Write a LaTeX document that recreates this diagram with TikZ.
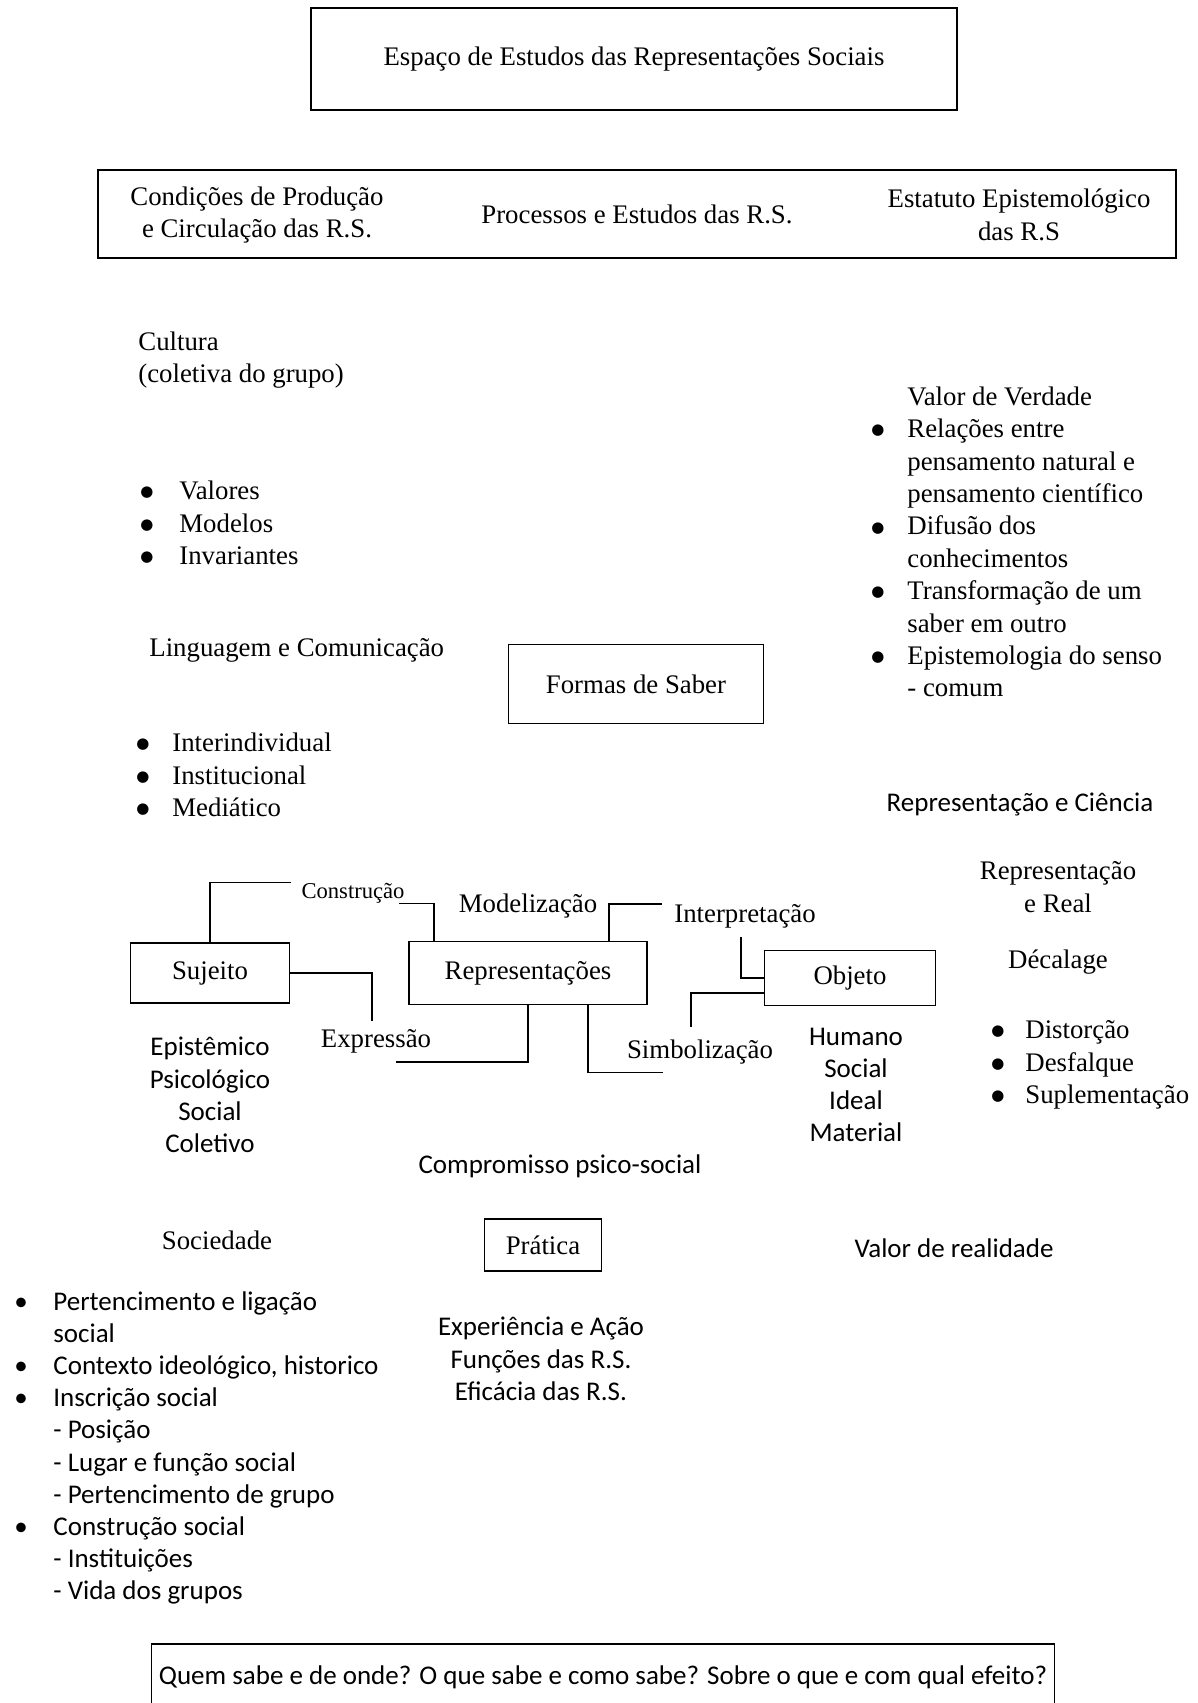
\documentclass[tikz,border=0pt]{standalone}
\usepackage{fontspec}
\setmainfont{Liberation Serif}
\newfontfamily\calibri{Carlito}
\newfontfamily\dejavu{DejaVu Sans}
\usetikzlibrary{calc}
\newcommand{\marca}[1][18pt]{\makebox[#1][l]{\raisebox{1.4pt}{\dejavu\fontsize{7.5}{8}\selectfont ●}}}
\newcommand{\marcaS}[1][18pt]{\makebox[#1][l]{\textbullet}}
\newcommand{\recuo}[1][18pt]{\hspace*{#1}}

\begin{document}
\begin{tikzpicture}[x=0.5pt,y=-0.5pt,
	box/.style={draw,line width=0.9pt,inner sep=0pt,font=\fontsize{13.4}{16.2}\selectfont},
	txt/.style={inner sep=0pt,font=\fontsize{13.4}{16.2}\selectfont},
	sans/.style={inner sep=0pt,font=\calibri\fontsize{13.5}{16.1}\selectfont},
	link/.style={line width=0.9pt}]
	\useasboundingbox (0,0) rectangle (1198,1703);
	\node[box,minimum width=323pt,minimum height=51pt] (titulo) at (634,59) {Espaço de Estudos das Representações Sociais};
	\node[box,minimum width=539pt,minimum height=44pt] (estudos) at (637,214) {Processos e Estudos das R.S.};
	\node[txt,align=center] (condicoes) at (257,215) {Condições de Produção\\e Circulação das R.S.};
	\node[txt,align=center] (estatuto) at (1019,215) {Estatuto Epistemológico\\das R.S};

	\node[txt,anchor=west,align=left] (cultura) at (138,360) {Cultura\\(coletiva do grupo)};
	\node[txt,anchor=west,align=left] (modelos) at (140,523) {\marca[19.5pt]Valores\\\marca[19.5pt]Modelos\\\marca[19.5pt]Invariantes};
	\node[txt,anchor=west] (linguagem) at (149,650) {Linguagem e Comunicação};
	\node[txt,anchor=west,align=left] (comunicacao) at (136,775) {\marca Interindividual\\\marca Institucional\\\marca Mediático};
	\node[box,minimum width=127.5pt,minimum height=39.5pt] (formas) at (636,684) {Formas de Saber};

	\node[txt,anchor=west,align=left] (verdade) at (871,542) {\recuo Valor de Verdade\\\marca Relações entre\\\recuo pensamento natural e\\\recuo pensamento científico\\\marca Difusão dos\\\recuo conhecimentos\\\marca Transformação de um\\\recuo saber em outro\\\marca Epistemologia do senso\\\recuo - comum};
	\node[sans] (ciencia) at (1020,804) {Representação e Ciência};
	\node[txt,align=center] (real) at (1058,887) {Representação\\e Real};
	\node[txt] (decalage) at (1058,962) {Décalage};
	\node[txt,anchor=west,align=left] (distorcao) at (991,1065) {\marca[17pt]Distorção\\\marca[17pt]Desfalque\\\marca[17pt]Suplementação};

	\node[box,minimum width=79.5pt,minimum height=30pt] (sujeito) at (210,973) {Sujeito};
	\node[box,minimum width=119pt,minimum height=31.5pt] (representacoes) at (528,973) {Representações};
	\node[box,minimum width=85.5pt,minimum height=27.5pt] (objeto) at (850,978) {Objeto};
	\node[txt,font=\fontsize{11.3}{13}\selectfont] (construcao) at (353,893) {Construção};
	\node[txt] (modelizacao) at (528,906) {Modelização};
	\node[txt] (interpretacao) at (745,916) {Interpretação};
	\node[txt] (expressao) at (376,1041) {Expressão};
	\node[txt] (simbolizacao) at (700,1052) {Simbolização};
	\node[sans,align=center] (epistemico) at (210,1095) {Epistêmico\\Psicológico\\Social\\Coletivo};
	\node[sans,align=center] (humano) at (856,1085) {Humano\\Social\\Ideal\\Material};

	\draw[link] (sujeito.north) |- ($(construcao.north west)+(-10,0)$);
	\draw[link] ($(representacoes.north west)+(26,0)$) |- ($(construcao.south east)+(-6,0)$);
	\draw[link] ($(representacoes.north east)+(-39,0)$) |- ($(interpretacao.north west)+(-12,0)$);
	\draw[link] ($(interpretacao.south)+(-4,9)$) |- (objeto.west);
	\draw[link] ($(objeto.west)+(0,15)$) -| ($(simbolizacao.north)+(-9,-12)$);
	\draw[link] (representacoes.south) |- ($(expressao.south)+(20,9)$);
	\draw[link] ($(representacoes.south)+(60,0)$) |- ($(simbolizacao.south west)+(36,8)$);
	\draw[link] (sujeito.east) -| ($(expressao.north)+(-4,-8)$);

	\node[sans] (compromisso) at (560,1166) {Compromisso psico-social};
	\node[txt] (sociedade) at (217,1240) {Sociedade};
	\node[box,minimum width=58.5pt,minimum height=26pt] (pratica) at (543,1245) {Prática};
	\node[sans] (realidade) at (954,1248) {Valor de realidade};
	\node[sans,anchor=west,align=left] (grupo) at (14,1448) {\marcaS[19.5pt]Pertencimento e ligação\\\recuo[19.5pt]social\\\marcaS[19.5pt]Contexto ideológico, historico\\\marcaS[19.5pt]Inscrição social\\\recuo[19.5pt]- Posição\\\recuo[19.5pt]- Lugar e função social\\\recuo[19.5pt]- Pertencimento de grupo\\\marcaS[19.5pt]Construção social\\\recuo[19.5pt]- Instituições\\\recuo[19.5pt]- Vida dos grupos};
	\node[sans,align=center] (experiencia) at (541,1359) {Experiência e Ação\\Funções das R.S.\\Eficácia das R.S.};
	\node[box,font=\calibri\fontsize{13.5}{16.1}\selectfont,minimum width=451.5pt,minimum height=33pt,anchor=north] (quem) at (603,1643) {Quem sabe e de onde? O que sabe e como sabe? Sobre o que e com qual efeito?};
\end{tikzpicture}
\end{document}
